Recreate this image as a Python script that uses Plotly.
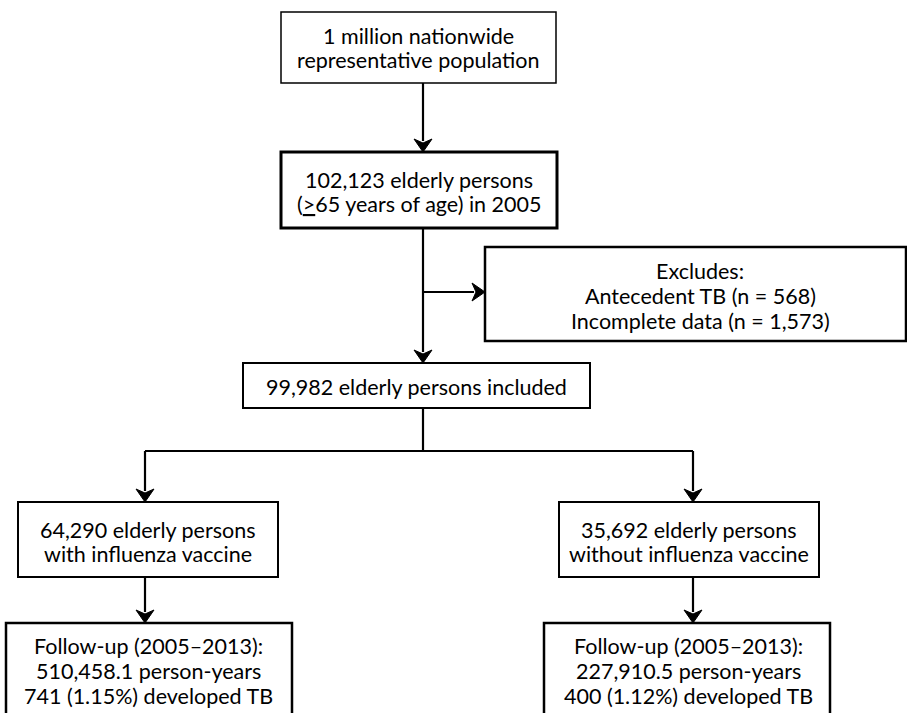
import plotly.graph_objects as go

# ---- content (texts of the flowchart boxes, one list entry per line) ----
box_ids = ["pop", "elderly", "excl", "incl", "vacc", "novacc", "fu_vacc", "fu_novacc"]
box_lines = [
    ["1 million nationwide", "representative population"],
    ["102,123 elderly persons", "(<u>&gt;</u>65 years of age) in 2005"],
    ["Excludes:", "Antecedent TB (n = 568)", "Incomplete data (n = 1,573)"],
    ["99,982 elderly persons included"],
    ["64,290 elderly persons", "with influenza vaccine"],
    ["35,692 elderly persons", "without influenza vaccine"],
    ["Follow-up (2005\u20132013):", "510,458.1 person-years", "741 (1.15%) developed TB"],
    ["Follow-up (2005\u20132013):", "227,910.5 person-years", "400 (1.12%) developed TB"],
]

# ---- layout geometry (pixel space) ----
W, H = 907, 713
geom = {
    "pop":       dict(x0=281, y0=12,  x1=556, y1=83,  lw=1.5),
    "elderly":   dict(x0=281, y0=152, x1=557, y1=228, lw=3),
    "excl":      dict(x0=485, y0=247, x1=906, y1=341, lw=2.5),
    "incl":      dict(x0=243, y0=363, x1=590, y1=408, lw=2),
    "vacc":      dict(x0=18,  y0=502, x1=278, y1=577, lw=2),
    "novacc":    dict(x0=559, y0=502, x1=819, y1=577, lw=2),
    "fu_vacc":   dict(x0=6,   y0=623, x1=292, y1=740, lw=2.5),
    "fu_novacc": dict(x0=544, y0=623, x1=830, y1=740, lw=2.5),
}
# text block placement: (center x, first-line center y, line spacing)
text_pos = {
    "pop":       (418, 35.5, 24),
    "elderly":   (419, 179.5, 24),
    "excl":      (700, 270.5, 25),
    "incl":      (416, 386.5, 24),
    "vacc":      (148, 529.5, 24.5),
    "novacc":    (689, 529.5, 24.5),
    "fu_vacc":   (148, 645.5, 25),
    "fu_novacc": (688, 645.5, 25),
}

# connector polylines (last point gets an arrowhead when flagged)
connectors = [
    ([(423, 83), (423, 152)], True),
    ([(423, 228), (423, 363)], True),
    ([(423, 292), (485, 292)], True),
    ([(423, 408), (423, 451)], False),
    ([(145, 451), (693, 451)], False),
    ([(145, 451), (145, 502)], True),
    ([(693, 451), (693, 502)], True),
    ([(145, 577), (145, 623)], True),
    ([(693, 577), (693, 623)], True),
]

FONT = "Lato, 'Open Sans', sans-serif"
FS = 21.5

fig = go.Figure()
shapes = []
annotations = []

for bid, lines in zip(box_ids, box_lines):
    g = geom[bid]
    shapes.append(dict(type="rect", xref="x", yref="y", x0=g["x0"], y0=g["y0"], x1=g["x1"], y1=g["y1"],
                       line=dict(color="black", width=g["lw"]), fillcolor="white", layer="above"))
    cx, cy0, dy = text_pos[bid]
    for i, line in enumerate(lines):
        annotations.append(dict(xref="x", yref="y", x=cx, y=cy0 + i * dy, text=line,
                                showarrow=False, xanchor="center", yanchor="middle", align="center",
                                font=dict(family=FONT, size=FS, color="black")))

AH_W, AH_H = 9, 13
for pts, head in connectors:
    (xa, ya), (xb, yb) = pts[0], pts[-1]
    if head:
        if xa == xb:  # vertical, pointing down
            ybs = yb - AH_H + 2
            shapes.append(dict(type="line", xref="x", yref="y", x0=xa, y0=ya, x1=xb, y1=ybs,
                               line=dict(color="black", width=2.2), layer="above"))
            path = f"M {xb-AH_W},{yb-AH_H} L {xb},{yb-AH_H+4} L {xb+AH_W},{yb-AH_H} L {xb},{yb} Z"
        else:  # horizontal, pointing right
            xbs = xb - AH_H + 2
            shapes.append(dict(type="line", xref="x", yref="y", x0=xa, y0=ya, x1=xbs, y1=yb,
                               line=dict(color="black", width=2.2), layer="above"))
            path = f"M {xb-AH_H},{yb-AH_W} L {xb-AH_H+4},{yb} L {xb-AH_H},{yb+AH_W} L {xb},{yb} Z"
        shapes.append(dict(type="path", xref="x", yref="y", path=path,
                           fillcolor="black", line=dict(color="black", width=1), layer="above"))
    else:
        shapes.append(dict(type="line", xref="x", yref="y", x0=xa, y0=ya, x1=xb, y1=yb,
                           line=dict(color="black", width=2.2), layer="above"))

fig.update_layout(
    width=W, height=H,
    margin=dict(l=0, r=0, t=0, b=0),
    paper_bgcolor="white", plot_bgcolor="white",
    xaxis=dict(range=[0, W], visible=False, fixedrange=True),
    yaxis=dict(range=[H, 0], visible=False, fixedrange=True),
    shapes=shapes, annotations=annotations, showlegend=False,
)

fig.write_html("out.html", config={"displayModeBar": False},
               post_script="document.body.style.margin='0';document.body.style.overflow='hidden';")
